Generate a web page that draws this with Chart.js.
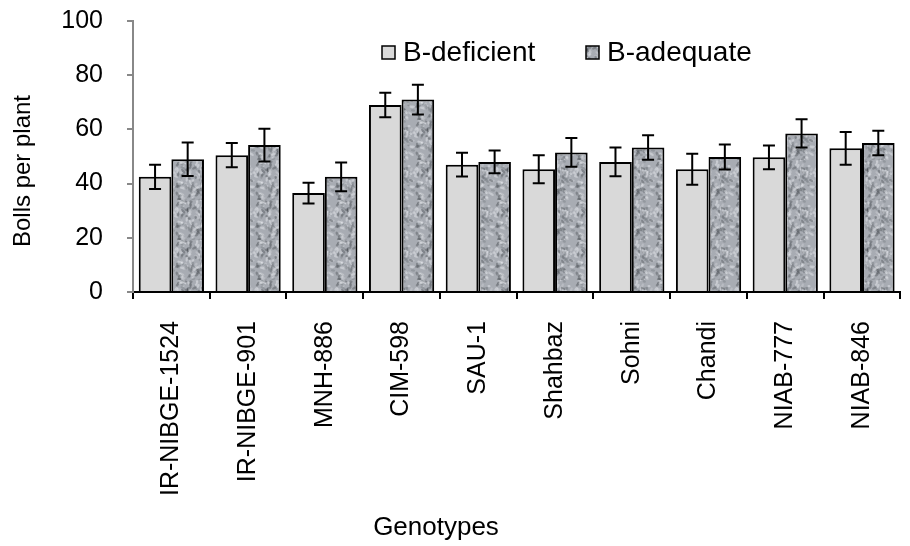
<!DOCTYPE html>
<html>
<head>
<meta charset="utf-8">
<script src="https://cdn.jsdelivr.net/npm/chart.js@4.4.0/dist/chart.umd.min.js"></script>
<style>
  html, body { margin: 0; padding: 0; background: #fff; overflow: hidden; }
  #wrap { width: 910px; height: 546px; overflow: hidden; }
</style>
</head>
<body>
<div id="wrap"><canvas id="chart" width="914" height="546"></canvas></div>
<script>
// Data
const genotypes = ["IR-NIBGE-1524", "IR-NIBGE-901", "MNH-886", "CIM-598", "SAU-1",
  "Shahbaz", "Sohni", "Chandi", "NIAB-777", "NIAB-846"];
const deficient = [42.5, 50.5, 36.5, 69, 47, 45.3, 48, 45.3, 49.7, 53];
const deficientErr = [4.5, 4.5, 3.8, 4.5, 4.4, 5.2, 5.3, 5.7, 4.4, 6];
const adequate = [49, 54.2, 42.5, 71, 48, 51.5, 53.3, 49.8, 58.5, 55];
const adequateErr = [6.2, 6, 5.3, 5.5, 4.2, 5.3, 4.5, 4.6, 5.2, 4.5];
const yTicks = [0, 20, 40, 60, 80, 100];

const FONT = "'Liberation Sans', Arial, sans-serif";

// Grey mottled texture for the B-adequate bars
function makeTexture() {
  const c = document.createElement("canvas");
  c.width = 40; c.height = 40;
  const g = c.getContext("2d");
  g.fillStyle = "#a8acb3";
  g.fillRect(0, 0, 40, 40);
  for (let i = 0; i < 160; i++) {
    const px = Math.abs((Math.sin(i * 12.9898) * 43758.5453) % 1) * 40;
    const py = Math.abs((Math.sin(i * 78.233) * 12345.678) % 1) * 40;
    const k = i % 4;
    g.fillStyle = k === 0 ? "rgba(235,238,242,0.45)" : k === 1 ? "rgba(70,74,80,0.4)" : k === 2 ? "rgba(210,213,218,0.4)" : "rgba(110,114,120,0.35)";
    g.beginPath();
    g.ellipse(px, py, 1.6 + (i % 3) * 0.6, 1.2, i, 0, Math.PI * 2);
    g.fill();
  }
  return g.createPattern(c, "repeat");
}
const texture = makeTexture();

const ctx = document.getElementById("chart");

// Error bars plugin
const errorBars = {
  id: "errorBars",
  afterDatasetsDraw(chart) {
    const c = chart.ctx;
    const y = chart.scales.y;
    const errs = [deficientErr, adequateErr];
    c.save();
    c.strokeStyle = "#000";
    c.lineWidth = 2;
    chart.data.datasets.forEach((ds, di) => {
      const meta = chart.getDatasetMeta(di);
      meta.data.forEach((bar, i) => {
        const v = ds.data[i], e = errs[di][i];
        const top = y.getPixelForValue(v + e);
        const bot = y.getPixelForValue(v - e);
        c.beginPath();
        c.moveTo(bar.x, top); c.lineTo(bar.x, bot);
        c.moveTo(bar.x - 6, top); c.lineTo(bar.x + 6, top);
        c.moveTo(bar.x - 6, bot); c.lineTo(bar.x + 6, bot);
        c.stroke();
      });
    });
    c.restore();
  }
};

// Legend and axis titles drawn by hand (placed like the original)
const insideLegend = {
  id: "insideLegend",
  afterDraw(chart) {
    const c = chart.ctx;
    const items = [
      { label: "B-deficient", fill: "#d9d9d9", x: 382 },
      { label: "B-adequate", fill: texture, x: 586 }
    ];
    c.save();
    c.font = "28px " + FONT;
    c.textBaseline = "middle";
    items.forEach(it => {
      c.fillStyle = it.fill;
      c.fillRect(it.x, 46, 13, 13);
      c.strokeStyle = "#000";
      c.lineWidth = 1.5;
      c.strokeRect(it.x, 46, 13, 13);
      c.fillStyle = "#000";
      c.fillText(it.label, it.x + 21, 53);
    });

    // axis titles
    c.textAlign = "center";
    c.font = "26px " + FONT;
    c.fillText("Genotypes", 436, 528);
    c.translate(23, 171);
    c.rotate(-Math.PI / 2);
    c.font = "24px " + FONT;
    c.fillText("Bolls per plant", 0, 0);
    c.restore();
  }
};

new Chart(ctx, {
  type: "bar",
  data: {
    labels: genotypes,
    datasets: [
      {
        label: "B-deficient",
        data: deficient,
        backgroundColor: "#d9d9d9",
        borderColor: "#000",
        borderWidth: 2,
        categoryPercentage: 0.85,
        barPercentage: 1
      },
      {
        label: "B-adequate",
        data: adequate,
        backgroundColor: texture,
        borderColor: "#000",
        borderWidth: 2,
        categoryPercentage: 0.85,
        barPercentage: 1
      }
    ]
  },
  options: {
    responsive: false,
    animation: false,
    layout: { padding: { top: 21, right: 0, bottom: 0, left: 0 } },
    plugins: {
      legend: { display: false },
      tooltip: { enabled: false }
    },
    scales: {
      x: {
        grid: { offset: true, drawOnChartArea: false, drawTicks: true, tickLength: 7, color: "#000", lineWidth: 2 },
        border: { color: "#000", width: 2 },
        ticks: {
          minRotation: 90, maxRotation: 90, autoSkip: false,
          color: "#000", padding: 22,
          font: { family: FONT, size: 25 }
        },
        afterFit(scale) { scale.height = 254; }
      },
      y: {
        min: 0, max: 100,
        afterBuildTicks(scale) { scale.ticks = yTicks.map(v => ({ value: v })); },
        grid: { drawOnChartArea: false, drawTicks: true, tickLength: 6, color: "#888", lineWidth: 2 },
        border: { color: "#888", width: 2 },
        ticks: {
          color: "#000", padding: 24,
          font: { family: FONT, size: 25 }
        },
        afterFit(scale) {
          scale.width = 133;
          scale.paddingTop = 0;
          scale.paddingBottom = 0;
        }
      }
    }
  },
  plugins: [errorBars, insideLegend]
});
</script>
</body>
</html>
